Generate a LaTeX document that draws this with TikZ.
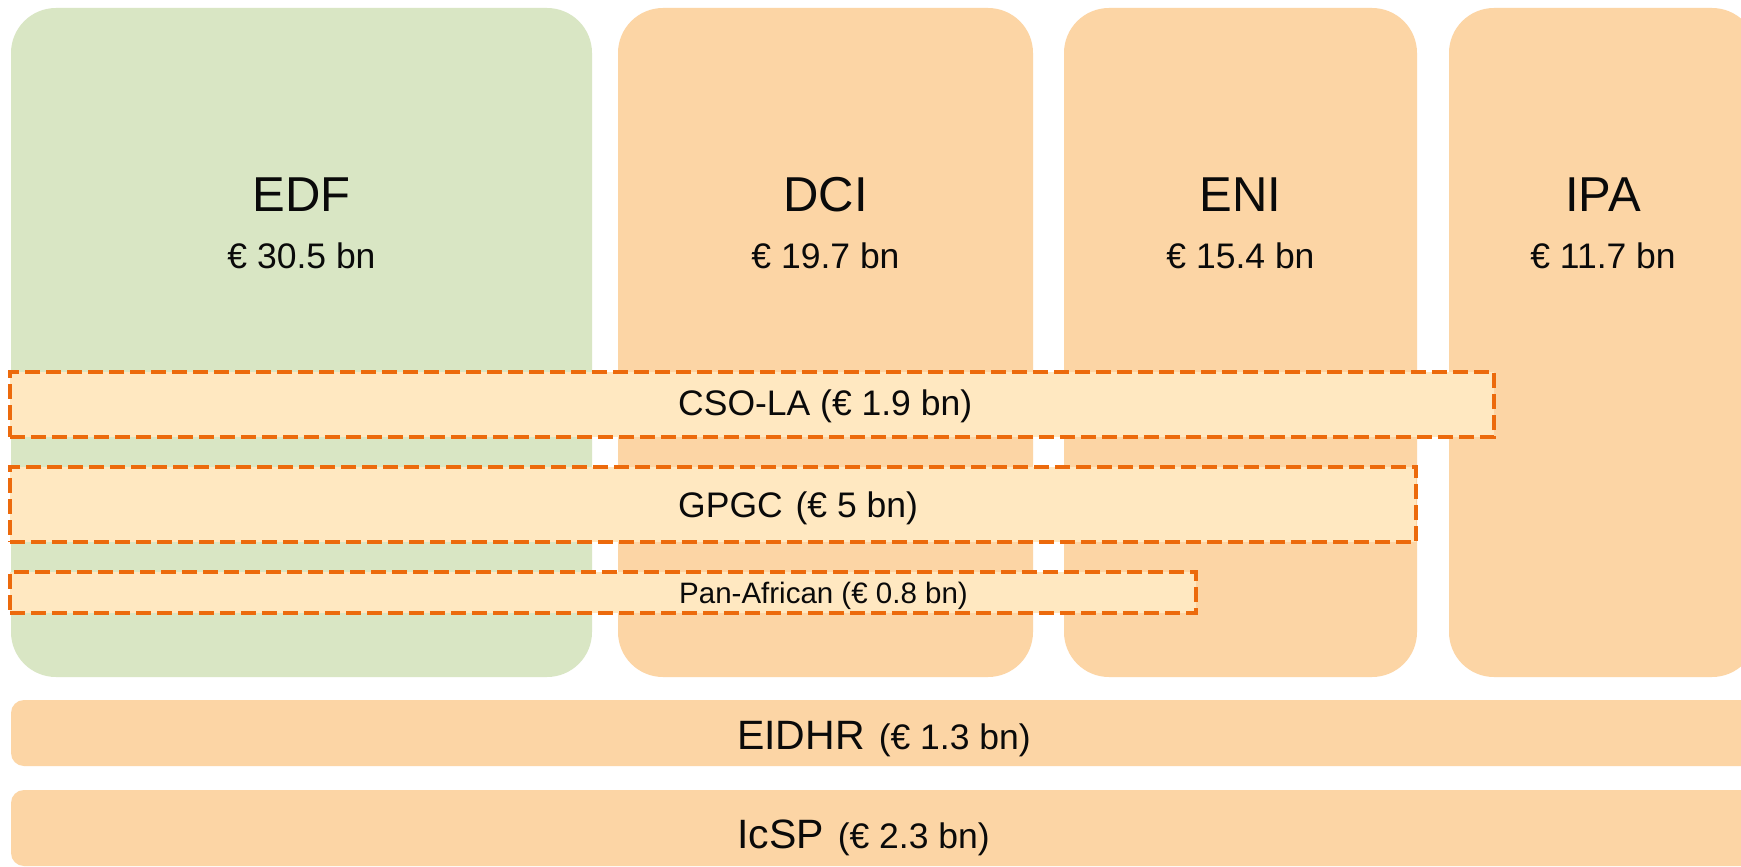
\documentclass[tikz,border=0pt]{standalone}
\usepackage{fontspec}
\setmainfont{Liberation Sans}
\definecolor{edfgreen}{HTML}{D9E6C4}
\definecolor{boxorange}{HTML}{FCD5A5}
\definecolor{bandfill}{HTML}{FFE8C1}
\definecolor{dashorange}{HTML}{EC6A0C}
\definecolor{inkblack}{HTML}{0A0A0A}
\begin{document}
\begin{tikzpicture}[x=1pt,y=-1pt,
  pillar/.style={rectangle, rounded corners=45pt, inner sep=0pt, outer sep=0pt, anchor=north west, fill=boxorange, minimum height=669pt},
  bar/.style={rectangle, rounded corners=13pt, inner sep=0pt, outer sep=0pt, anchor=north west, fill=boxorange, minimum width=1800pt},
  band/.style={rectangle, draw=dashorange, line width=4.5pt, dash pattern=on 15pt off 6pt, fill=bandfill, inner sep=0pt, outer sep=0pt, anchor=north west},
  namelabel/.style={inner sep=0pt, anchor=base, text=inkblack, font=\fontsize{49}{58}\selectfont},
  amountlabel/.style={inner sep=0pt, anchor=base, text=inkblack, font=\fontsize{35.5}{42}\selectfont},
  bandlabel/.style={inner sep=0pt, anchor=base west, text=inkblack, font=\fontsize{35.5}{42}\selectfont},
  barlabel/.style={inner sep=0pt, anchor=base west, text=inkblack, font=\fontsize{41}{48}\selectfont}
]
\useasboundingbox (0,0) rectangle (1741,867);
\clip (0,0) rectangle (1741,867);
\fill[white] (0,0) rectangle (1741,867);

% pillars
\node[pillar, fill=edfgreen, minimum width=581pt] (edf) at (11,8) {};
\node[pillar, minimum width=415pt] (dci) at (618,8) {};
\node[pillar, minimum width=353pt] (eni) at (1064,8) {};
\node[pillar, minimum width=308pt] (ipa) at (1449,8) {};

\node[namelabel] (edfname) at (301.5,211) {EDF};
\node[amountlabel] (edfamt) at (301.5,268) {€ 30.5 bn};
\node[namelabel] (dciname) at (825.5,211) {DCI};
\node[amountlabel] (dciamt) at (825.5,268) {€ 19.7 bn};
\node[namelabel] (eniname) at (1240.5,211) {ENI};
\node[amountlabel] (eniamt) at (1240.5,268) {€ 15.4 bn};
\node[namelabel] (ipaname) at (1603,211) {IPA};
\node[amountlabel] (ipaamt) at (1603,268) {€ 11.7 bn};

% dashed bands
\node[band, minimum width=1484pt, minimum height=65pt] (cso) at (10,372) {};
\node[band, minimum width=1406pt, minimum height=75pt] (gpgc) at (10,467) {};
\node[band, minimum width=1186pt, minimum height=41pt] (pan) at (10,572) {};

\node[bandlabel] (csotext) at (678,415) {CSO-LA (€ 1.9 bn)};
\node[bandlabel] (gpgctext) at (678,517) {GPGC\hspace{3pt} (€ 5 bn)};
\node[bandlabel, font=\fontsize{29.5}{35}\selectfont] (pantext) at (679,603) {Pan-African (€ 0.8 bn)};

% bottom bars
\node[bar, minimum height=66pt] (eidhr) at (11,700) {};
\node[bar, minimum height=76pt] (icsp) at (11,790) {};

\node[barlabel] (eidhrtext) at (737,749) {EIDHR\hspace{14pt}{\fontsize{35.5}{42}\selectfont(€ 1.3 bn)}};
\node[barlabel] (icsptext) at (737,848) {IcSP\hspace{14pt}{\fontsize{35.5}{42}\selectfont(€ 2.3 bn)}};
\end{tikzpicture}
\end{document}
